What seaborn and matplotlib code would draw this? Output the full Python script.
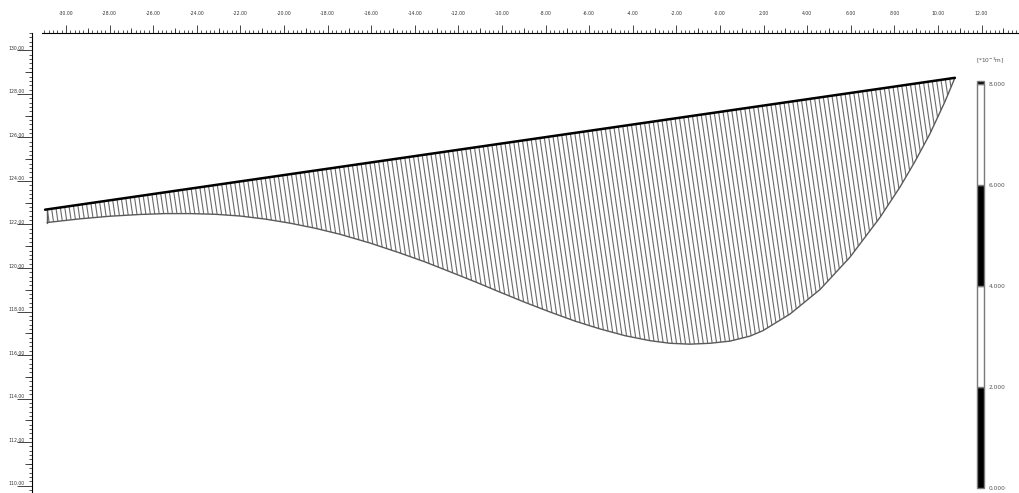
import numpy as np
import matplotlib
matplotlib.use("Agg")
import matplotlib.pyplot as plt
import matplotlib.transforms as mtransforms
from matplotlib.collections import LineCollection
import seaborn as sns

# ------------------------------
# Podaci (ocitani sa slike)
# ------------------------------
beam_x = [-30.96, 10.78]
beam_y = [122.68, 128.74]

curve_x = [-30.87, -29.36, -27.98, -26.61, -25.46, -24.31, -23.17, -22.02,
           -20.87, -19.72, -18.58, -17.43, -16.06, -14.68, -13.53, -12.39,
           -11.24, -10.09, -8.94, -7.80, -6.65, -5.50, -4.36, -3.21, -2.29,
           -1.38, -0.46, 0.46, 1.38, 1.97, 3.21, 4.59, 5.96, 7.34, 8.26,
           8.94, 9.63, 10.32, 10.78]
curve_y = [122.09, 122.26, 122.38, 122.46, 122.50, 122.50, 122.47, 122.39,
           122.25, 122.06, 121.83, 121.55, 121.15, 120.69, 120.28, 119.83,
           119.37, 118.89, 118.42, 117.98, 117.56, 117.20, 116.89, 116.66,
           116.54, 116.50, 116.54, 116.64, 116.87, 117.12, 117.88, 119.01,
           120.49, 122.32, 123.72, 124.88, 126.16, 127.64, 128.74]

x_tick_labels = ["-30.00", "-28.00", "-26.00", "-24.00", "-22.00", "-20.00",
                 "-18.00", "-16.00", "-14.00", "-12.00", "-10.00", "-8.00",
                 "-6.00", "-4.00", "-2.00", "-0.00", "2.00", "4.00", "6.00",
                 "8.00", "10.00", "12.00"]
y_tick_labels = ["110.00", "112.00", "114.00", "116.00", "118.00", "120.00",
                 "122.00", "124.00", "126.00", "128.00", "130.00"]

legend_levels = [0.0, 2.0, 4.0, 6.0, 8.0]
legend_labels = ["0.000", "2.000", "4.000", "6.000", "8.000"]
legend_colors = ["black", "white", "black", "white", "black"]
legend_title = "[*10$^{-3}$m]"

# ------------------------------
# Stil
# ------------------------------
sns.set_style("white")
plt.rcParams["font.family"] = ["DejaVu Sans"]

W, H = 1019, 493
fig = plt.figure(figsize=(W / 100, H / 100), dpi=100)
ax = fig.add_axes([32 / W, 0, 987 / W, 460 / H])

xlim = (-31.56, 13.72)
ylim = (109.66, 130.76)

# ------------------------------
# Dijagram: srafura upravna na gredu
# ------------------------------
slope = (beam_y[1] - beam_y[0]) / (beam_x[1] - beam_x[0])
stations = np.arange(beam_x[0] + 0.1, beam_x[1], 0.2)
segments = []
for xb in stations:
    yb = np.interp(xb, beam_x, beam_y)
    t = yb - np.interp(xb, curve_x, curve_y)
    for _ in range(30):
        t = yb - np.interp(xb + slope * t, curve_x, curve_y)
    if t > 0:
        segments.append([(xb, yb), (xb + slope * t, yb - t)])
ax.add_collection(LineCollection(segments, colors="#6a6a6a", linewidths=0.8))

top_at_curve = np.interp(curve_x, beam_x, beam_y)
sns.lineplot(x=curve_x, y=curve_y, sort=False, ax=ax, color="#5a5a5a",
             linewidth=1.0)
ax.plot([curve_x[0], curve_x[0]], [curve_y[0], top_at_curve[0]],
        color="#5a5a5a", linewidth=1.0)
sns.lineplot(x=beam_x, y=beam_y, sort=False, ax=ax, color="black",
             linewidth=1.8)

ax.set_xlim(*xlim)
ax.set_ylim(*ylim)

# ------------------------------
# Ose
# ------------------------------
for s in ["right", "bottom"]:
    ax.spines[s].set_visible(False)
for s in ["top", "left"]:
    ax.spines[s].set_color("black")
    ax.spines[s].set_linewidth(0.8)
ax.spines["top"].set_bounds(-31.1, xlim[1])

x_ticks = [float(s) for s in x_tick_labels]
y_ticks = [float(s) for s in y_tick_labels]

ax.xaxis.tick_top()
ax.set_xticks(x_ticks)
ax.set_xticklabels(x_tick_labels)
ax.set_xticks(np.arange(-31.0, 13.8, 0.2), minor=True)
ax.tick_params(axis="x", which="both", top=True, bottom=False)
ax.tick_params(axis="x", which="major", direction="out", length=5.8,
               width=0.6, pad=6.5, labelsize=3.3, labelcolor="#333333")
ax.tick_params(axis="x", which="minor", direction="out", length=2.2,
               width=0.55)

ax.set_yticks(y_ticks)
ax.set_yticklabels(y_tick_labels)
ax.set_yticks(np.arange(109.8, 130.8, 0.2), minor=True)
ax.tick_params(axis="y", which="both", left=True, right=False)
ax.tick_params(axis="y", which="major", direction="out", length=10.8,
               width=0.6, pad=-5.5, labelsize=3.3, labelcolor="#333333")
ax.tick_params(axis="y", which="minor", direction="out", length=2.4,
               width=0.55)
offset = mtransforms.ScaledTranslation(0, 2.5 / 100, fig.dpi_scale_trans)
for lbl in ax.get_yticklabels():
    lbl.set_transform(lbl.get_transform() + offset)

# srednje crtice na svakoj celoj vrednosti
secx = ax.secondary_xaxis("top")
secx.set_xticks([t + 1 for t in x_ticks])
secx.set_xticklabels([])
secx.tick_params(length=3.8, width=0.6, top=True)
secx.spines["top"].set_visible(False)

secy = ax.secondary_yaxis("left")
secy.set_yticks([t + 1 for t in y_ticks])
secy.set_yticklabels([])
secy.tick_params(length=5.0, width=0.6, left=True)
secy.spines["left"].set_visible(False)

# ------------------------------
# Legenda (skala)
# ------------------------------
cax = fig.add_axes([977 / W, 5 / H, 7 / W, 407 / H])
heights = list(np.diff(legend_levels)) + [0.06]
cax.bar(0, heights, bottom=legend_levels, width=1.0, color=legend_colors,
        edgecolor="#7a7a7a", linewidth=1.0, clip_on=False)
cax.set_xlim(-0.5, 0.5)
cax.set_ylim(0, legend_levels[-1] + 0.06)
for s in cax.spines.values():
    s.set_visible(False)
cax.set_xticks([])
cax.yaxis.tick_right()
cax.set_yticks(legend_levels)
cax.set_yticklabels(legend_labels)
cax.tick_params(axis="y", length=0, pad=3.5, labelsize=4.2,
                labelcolor="#555555")
fig.text(990 / W, 1 - 60 / H, legend_title, ha="center", va="center",
         fontsize=4.2, color="#555555")

fig.savefig("out.png", dpi=100)
